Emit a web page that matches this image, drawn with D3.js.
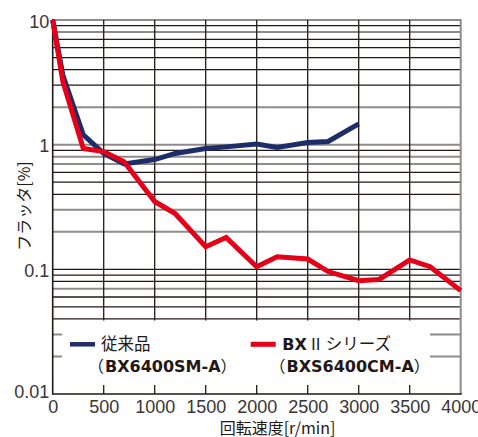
<!DOCTYPE html>
<html>
<head>
<meta charset="utf-8">
<script src="https://cdn.jsdelivr.net/npm/d3@7/dist/d3.min.js"></script>
<style>
  html, body { margin: 0; padding: 0; background: #fff; }
  svg { display: block; }
  .num { font-family: "Liberation Sans Narrow", "Arial Narrow", "Liberation Sans", sans-serif; font-size: 18px; fill: #3a3536; }
  .jp { font-family: "Noto Sans CJK JP", sans-serif; fill: #231815; }
  .bold { font-family: "DejaVu Sans", sans-serif; font-weight: bold; fill: #231815; }
</style>
</head>
<body>
<svg id="chart" width="478" height="437"></svg>
<script>
// Rotation speed [r/min]
const speedsOld = [0, 100, 300, 500, 700, 1000, 1200, 1500, 1700, 2000, 2200, 2500, 2700, 3000];
// Flutter [%] of the conventional model (BX6400SM-A)
const flutterOld = [10, 3.6, 1.2, 0.85, 0.70, 0.76, 0.85, 0.93, 0.96, 1.01, 0.95, 1.04, 1.06, 1.47];

const speedsNew = [0, 100, 300, 500, 700, 1000, 1200, 1500, 1700, 2000, 2200, 2500, 2700, 3000, 3200, 3500, 3700, 4000];
// Flutter [%] of the BX II series (BXS6400CM-A)
const flutterNew = [10, 3.2, 0.93, 0.88, 0.73, 0.35, 0.28, 0.152, 0.18, 0.105, 0.126, 0.121, 0.096, 0.081, 0.083, 0.119, 0.105, 0.0675];

const xTicks = [0, 500, 1000, 1500, 2000, 2500, 3000, 3500, 4000];
const yTicks = [0.01, 0.1, 1, 10];
const yTickLabels = ["0.01", "0.1", "1", "10"];

// grid lines drawn in grey rather than black
const greyLevels = [10, 8, 2, 1, 0.8, 0.7, 0.3, 0.2, 0.07, 0.03, 0.02];

const svg = d3.select("#chart");
const L = 52.7, R = 460.7, T = 20, B = 394;

const x = d3.scaleLinear().domain([0, 4000]).range([L, R]);
const y = d3.scaleLog().domain([0.01, 10]).range([B, T]);

// horizontal grid: every 1..9 multiple of each decade
const levels = [];
for (let e = -2; e <= 0; e++) {
  for (let m = 1; m <= 9; m++) levels.push(+(m * Math.pow(10, e)).toPrecision(3));
}
levels.push(10);
const isGrey = v => greyLevels.some(g => Math.abs(g - v) < 1e-9);

const grid = svg.append("g");
grid.selectAll("line.h").data(levels.filter(v => v > 0.01)).join("line")
  .attr("x1", L).attr("x2", R)
  .attr("y1", d => y(d)).attr("y2", d => y(d))
  .attr("stroke", d => isGrey(d) ? "#8f8b8a" : "#231815")
  .attr("stroke-width", d => isGrey(d) ? 2 : 1.3);

grid.selectAll("line.v").data(xTicks.filter(v => v > 0 && v < 4000)).join("line")
  .attr("x1", d => x(d)).attr("x2", d => x(d))
  .attr("y1", T).attr("y2", B)
  .attr("stroke", "#231815").attr("stroke-width", 1.3);

// right border
svg.append("line").attr("x1", R).attr("x2", R).attr("y1", T - 1).attr("y2", B)
  .attr("stroke", "#8f8b8a").attr("stroke-width", 2);

// legend panel covering the lower part of the grid
svg.append("rect").attr("x", 62).attr("y", 320.5).attr("width", 368).attr("height", 64.5)
  .attr("fill", "#fff");

// left and bottom axes
svg.append("line").attr("x1", L).attr("x2", L).attr("y1", T - 1).attr("y2", B + 0.7)
  .attr("stroke", "#231815").attr("stroke-width", 1.6);
svg.append("line").attr("x1", L).attr("x2", R + 1).attr("y1", B).attr("y2", B)
  .attr("stroke", "#231815").attr("stroke-width", 1.6);

// series
const line = (xs) => d3.line().x((d, i) => x(xs[i])).y(d => y(d));
svg.append("path").datum(flutterOld).attr("d", line(speedsOld))
  .attr("fill", "none").attr("stroke", "#1e2d69").attr("stroke-width", 5)
  .attr("stroke-linejoin", "miter");
svg.append("path").datum(flutterNew).attr("d", line(speedsNew))
  .attr("fill", "none").attr("stroke", "#e50019").attr("stroke-width", 5)
  .attr("stroke-linejoin", "miter");

// axes labels via d3 axes
const xAxis = svg.append("g").attr("transform", `translate(0,${B})`)
  .call(d3.axisBottom(x).tickValues(xTicks).tickSize(0).tickPadding(0).tickFormat(d3.format("d")));
xAxis.select(".domain").remove();
xAxis.selectAll("text").attr("class", "num").attr("dy", null).attr("y", 19);

const yAxis = svg.append("g").attr("transform", `translate(${L},0)`)
  .call(d3.axisLeft(y).tickValues(yTicks).tickSize(0).tickPadding(0)
    .tickFormat((d, i) => yTickLabels[i]));
yAxis.select(".domain").remove();
yAxis.selectAll("text").attr("class", "num").attr("x", -3.5)
  .attr("dy", null).attr("y", d => d === yTicks[0] ? 3 : 7);

// axis titles
svg.append("text").attr("class", "jp").attr("x", 277.5).attr("y", 433.5)
  .attr("text-anchor", "middle").attr("font-size", 16).text("回転速度[r/min]");
svg.append("text").attr("class", "jp")
  .attr("transform", "translate(22.5,206) rotate(-90)")
  .attr("text-anchor", "middle").attr("dominant-baseline", "central")
  .attr("font-size", 16).text("フラッタ[%]");

// legend
const lg = svg.append("g");
lg.append("line").attr("x1", 70).attr("x2", 95).attr("y1", 344.3).attr("y2", 344.3)
  .attr("stroke", "#1e2d69").attr("stroke-width", 4.5);
lg.append("text").attr("class", "jp").attr("x", 101).attr("y", 349.5)
  .attr("font-size", 16.5).text("従来品");
const t1 = lg.append("text").attr("x", 88).attr("y", 371.7);
t1.append("tspan").attr("class", "jp").attr("font-size", 16).text("（");
t1.append("tspan").attr("class", "bold").attr("font-size", 16).attr("dx", 1).text("BX6400SM-A");
t1.append("tspan").attr("class", "jp").attr("font-size", 16).text("）");

lg.append("line").attr("x1", 250.7).attr("x2", 275.7).attr("y1", 344.3).attr("y2", 344.3)
  .attr("stroke", "#e50019").attr("stroke-width", 5);
const t2 = lg.append("text").attr("x", 282.3).attr("y", 350);
t2.append("tspan").attr("class", "bold").attr("font-size", 16).text("BX");
t2.append("tspan").attr("class", "jp").attr("font-size", 16).attr("dx", 1).text("Ⅱ");
t2.append("tspan").attr("class", "jp").attr("font-size", 16.5).attr("dx", 2).text("シリーズ");
const t3 = lg.append("text").attr("x", 269.5).attr("y", 371.7);
t3.append("tspan").attr("class", "jp").attr("font-size", 16).text("（");
t3.append("tspan").attr("class", "bold").attr("font-size", 16).attr("dx", 1).text("BXS6400CM-A");
t3.append("tspan").attr("class", "jp").attr("font-size", 16).text("）");
</script>
</body>
</html>
